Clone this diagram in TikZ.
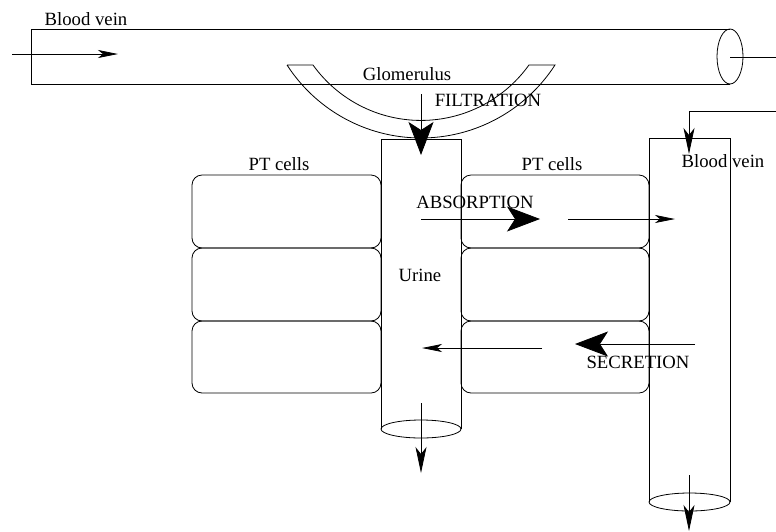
\documentclass[tikz,border=0pt]{standalone}
\usepackage{fontspec}
\newfontfamily\timesf{Liberation Serif}
\usetikzlibrary{arrows.meta}
\begin{document}
\begin{tikzpicture}[x=1pt,y=1pt,line width=0.8pt,
  lbl/.style={inner sep=0pt,font=\timesf\fontsize{18.7}{22}\selectfont},
  bigarrow/.style={-{Stealth[length=33pt,width=25pt,inset=8pt]}},
  medarrow/.style={-{Stealth[length=26pt,width=11pt,inset=7pt]}},
  smallarrow/.style={-{Stealth[length=20pt,width=8pt,inset=5pt]}},
  cell/.style={rounded corners=10pt}]
\useasboundingbox (0,0) rectangle (776,-531);
% top blood vein
\draw (730,-29) -- (31,-29) -- (31,-84) -- (730,-84);
\draw (730,-56.5) ellipse [x radius=13, y radius=27.5];
\node[lbl] (bv1) at (86,-19) {Blood vein};
\coordinate (a1s) at (12,-54);
\coordinate (a1e) at (118,-54);
\draw[smallarrow] (a1s) -- (a1e);
\coordinate (o1s) at (730,-57);
\coordinate (o1e) at (776,-57);
\draw (o1s) -- (o1e);
% glomerulus
\draw (287,-65) -- (313,-65) arc [start angle=215.66, end angle=324.34, radius=132.9]
  -- (555,-65) arc [start angle=327.15, end angle=212.85, radius=159.5] -- cycle;
\node[lbl] (glom) at (407,-74) {Glomerulus};
\node[lbl] (filt) at (488,-100) {FILTRATION};
% urine tube
\draw (381,-429) -- (381,-139) -- (461,-139) -- (461,-429);
\draw (421,-429) ellipse [x radius=40, y radius=9];
\node[lbl] (urine) at (420,-275) {Urine};
% right blood vein
\draw (649,-502) -- (649,-138) -- (730,-138) -- (730,-502);
\draw (689.5,-502) ellipse [x radius=40.5, y radius=9];
\node[lbl] (bv2) at (723,-161) {Blood vein};
% PT cells left
\draw[cell] (192,-175) rectangle (381,-248);
\draw[cell] (192,-248) rectangle (381,-321);
\draw[cell] (192,-321) rectangle (381,-393);
\node[lbl] (ptl) at (279,-164) {PT cells};
% PT cells right
\draw[cell] (461,-175) rectangle (649,-248);
\draw[cell] (461,-248) rectangle (649,-321);
\draw[cell] (461,-321) rectangle (649,-393);
\node[lbl] (ptr) at (552,-164) {PT cells};
% filtration arrow
\coordinate (fs) at (421,-94);
\coordinate (fe) at (421,-155);
\draw[bigarrow] (fs) -- (fe);
% absorption
\node[lbl] (abs) at (475,-202) {ABSORPTION};
\coordinate (abs1s) at (421,-219);
\coordinate (abs1e) at (540,-219);
\draw[bigarrow] (abs1s) -- (abs1e);
\coordinate (abs2s) at (568,-219);
\coordinate (abs2e) at (675,-219);
\draw[smallarrow] (abs2s) -- (abs2e);
% secretion
\node[lbl] (sec) at (638,-362) {SECRETION};
\coordinate (sec1s) at (695,-344);
\coordinate (sec1e) at (575,-344);
\draw[bigarrow] (sec1s) -- (sec1e);
\coordinate (sec2s) at (542,-348);
\coordinate (sec2e) at (422,-348);
\draw[smallarrow] (sec2s) -- (sec2e);
% right vein inflow
\coordinate (rv1) at (776,-111);
\coordinate (rv2) at (689,-111);
\coordinate (rv3) at (689,-154);
\draw[medarrow] (rv1) -- (rv2) -- (rv3);
% outflows
\coordinate (u1) at (421,-403);
\coordinate (u2) at (421,-473);
\draw[medarrow] (u1) -- (u2);
\coordinate (b1) at (689,-475);
\coordinate (b2) at (689,-531);
\draw[medarrow] (b1) -- (b2);
\end{tikzpicture}
\end{document}
